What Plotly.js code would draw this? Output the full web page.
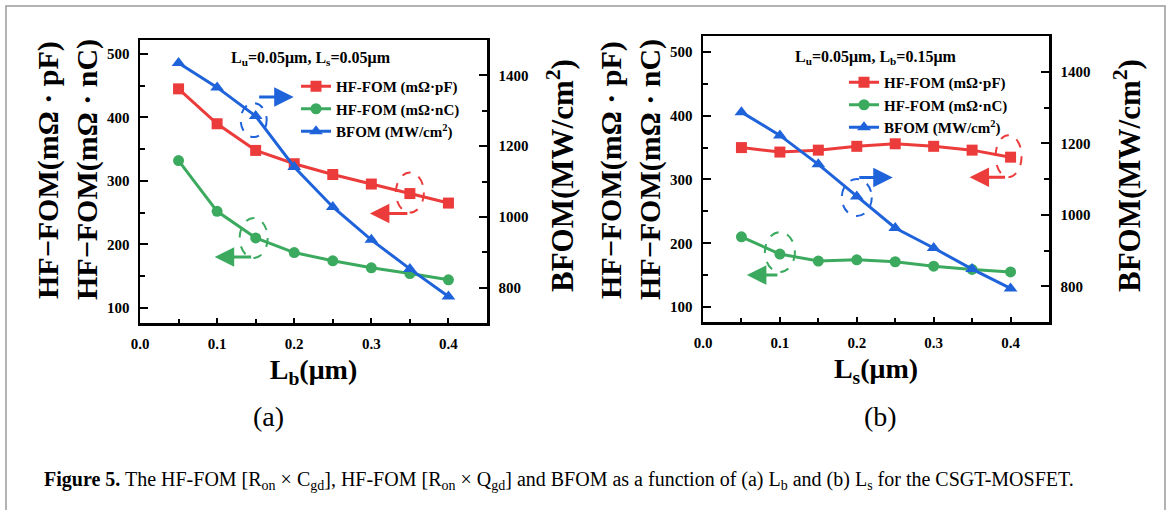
<!DOCTYPE html>
<html>
<head>
<meta charset="utf-8">
<script src="https://cdn.plot.ly/plotly-3.0.1.min.js"></script>
<style>
html,body{margin:0;padding:0;background:#fff;}
#chart{width:1171px;height:510px;}
</style>
</head>
<body>
<div id="chart"></div>
<script>
// ---- data ----
const lengthsUm = [0.05, 0.10, 0.15, 0.20, 0.25, 0.30, 0.35, 0.40];
// panel (a): vs Lb
const hfPF_a = [445, 390, 348, 327, 310, 295, 280, 265];
const hfNC_a = [332, 252, 210, 187, 174, 163, 154, 144];
const bfom_a = [1435, 1366, 1285, 1141, 1028, 935, 853, 775];
// panel (b): vs Ls
const hfPF_b = [350, 343, 346, 352, 356, 352, 346, 335];
const hfNC_b = [210, 183, 172, 174, 171, 164, 159, 155];
const bfom_b = [1287, 1222, 1141, 1051, 963, 907, 848, 794];
const seriesNames = ['HF-FOM (mΩ·pF)', 'HF-FOM (mΩ·nC)', 'BFOM (MW/cm<sup>2</sup>)'];
const xTickVals = [0.0, 0.1, 0.2, 0.3, 0.4];
const yTickVals = [100, 200, 300, 400, 500];
const y2TickVals = [800, 1000, 1200, 1400];

const RED = '#EB3B3B', GREEN = '#3BAA5E', BLUE = '#1F63DB';
const FONT = 'Liberation Serif, Times New Roman, serif';
const W = 1171, H = 510;
const px = v => v / W, py = v => 1 - v / H;

function mk(x, y, xa, ya, name, color, sym, legend, size) {
  return {x: x, y: y, xaxis: xa, yaxis: ya, name: name, type: 'scatter', mode: 'lines+markers',
    line: {color: color, width: 3}, marker: {color: color, symbol: sym, size: size},
    legend: legend};
}
const data = [
  mk(lengthsUm, hfPF_a, 'x', 'y', seriesNames[0], RED, 'square', 'legend', 11),
  mk(lengthsUm, hfNC_a, 'x', 'y', seriesNames[1], GREEN, 'circle', 'legend', 11),
  mk(lengthsUm, bfom_a, 'x', 'y2', seriesNames[2], BLUE, 'triangle-up', 'legend', 12),
  mk(lengthsUm, hfPF_b, 'x2', 'y3', seriesNames[0], RED, 'square', 'legend2', 11),
  mk(lengthsUm, hfNC_b, 'x2', 'y3', seriesNames[1], GREEN, 'circle', 'legend2', 11),
  mk(lengthsUm, bfom_b, 'x2', 'y4', seriesNames[2], BLUE, 'triangle-up', 'legend2', 12)
];

const tickFont = {family: FONT, size: 15, color: '#000', weight: 'bold'};
function xAxis(domain, anchor, title) {
  return {domain: domain, anchor: anchor, range: [0, 0.45], tickvals: xTickVals,
    ticktext: xTickVals.map(v => v.toFixed(1)),
    showline: true, linewidth: 2.5, linecolor: '#000', mirror: true,
    ticks: 'inside', ticklen: 5, tickwidth: 2, tickcolor: '#000',
    minor: {ticks: 'inside', dtick: 0.05, tick0: 0, ticklen: 4, tickwidth: 2, tickcolor: '#000'},
    showgrid: false, zeroline: false, tickfont: tickFont, ticklabelstandoff: 5,
    title: {text: title, font: {family: FONT, size: 28, color: '#000', weight: 'bold'}, standoff: 9}};
}
function yAxis(domain, anchor, range) {
  return {domain: domain, anchor: anchor, range: range, tickvals: yTickVals,
    showline: true, linewidth: 2.5, linecolor: '#000',
    ticks: 'inside', ticklen: 8, tickwidth: 2, tickcolor: '#000',
    minor: {ticks: 'inside', dtick: 50, tick0: 0, ticklen: 5, tickwidth: 2, tickcolor: '#000'},
    showgrid: false, zeroline: false, tickfont: tickFont, ticklabelstandoff: 5};
}
function y2Axis(overlay, anchor) {
  return {overlaying: overlay, anchor: anchor, side: 'right', range: [700, 1500], tickvals: y2TickVals,
    showline: true, linewidth: 2.5, linecolor: '#000',
    ticks: 'inside', ticklen: 8, tickwidth: 2, tickcolor: '#000',
    minor: {ticks: 'inside', dtick: 100, tick0: 0, ticklen: 5, tickwidth: 2, tickcolor: '#000'},
    showgrid: false, zeroline: false, tickfont: tickFont, ticklabelstandoff: 6};
}

const legFont = {family: FONT, size: 15, color: '#000', weight: 'bold'};
const layout = {
  width: W, height: H, margin: {l: 0, r: 0, t: 0, b: 0},
  paper_bgcolor: '#fff', plot_bgcolor: '#fff', showlegend: true,
  xaxis: xAxis([px(140), px(487)], 'y', 'L<sub>b</sub>(μm)'),
  yaxis: yAxis([py(323), py(40)], 'x', [76, 522]),
  yaxis2: y2Axis('y', 'x'),
  xaxis2: xAxis([px(703), px(1049)], 'y3', 'L<sub>s</sub>(μm)'),
  yaxis3: yAxis([py(322), py(36)], 'x2', [76.5, 525]),
  yaxis4: y2Axis('y3', 'x2'),
  legend: {x: px(296), y: py(70), xanchor: 'left', yanchor: 'top', bgcolor: 'rgba(0,0,0,0)',
    font: legFont, itemwidth: 30, tracegroupgap: 0},
  legend2: {x: px(844), y: py(66), xanchor: 'left', yanchor: 'top', bgcolor: 'rgba(0,0,0,0)',
    font: legFont, itemwidth: 30, tracegroupgap: 0},
  shapes: [],
  annotations: []
};

// ellipse markers (dashed) anchored at data points, sized in pixels
function ell(xref, yref, xv, yv, color, w, h, dx, dy) {
  layout.shapes.push({type: 'circle', xref: xref, yref: yref, xsizemode: 'pixel', ysizemode: 'pixel',
    xanchor: xv, yanchor: yv, x0: dx - w / 2, x1: dx + w / 2, y0: dy - h / 2, y1: dy + h / 2,
    line: {color: color, width: 2, dash: 'dash'}});
}
function arr(xref, yref, xv, yv, color, xs, ys, ax) {
  layout.annotations.push({xref: xref, yref: yref, x: xv, y: yv, xshift: xs, yshift: ys,
    text: '', showarrow: true, arrowhead: 2, arrowsize: 1.3, arrowwidth: 3, arrowcolor: color,
    ax: ax, ay: 0});
}
ell('x', 'y2', lengthsUm[2], bfom_a[2], BLUE, 26, 34, -2, -4);
arr('x', 'y2', lengthsUm[2], bfom_a[2], BLUE, 38, 19, -36);
ell('x', 'y', lengthsUm[6], hfPF_a[6], RED, 28, 40, 0, 1);
arr('x', 'y', lengthsUm[6], hfPF_a[6], RED, -40, -20, 39);
ell('x', 'y', lengthsUm[2], hfNC_a[2], GREEN, 28, 40, -2, 0);
arr('x', 'y', lengthsUm[2], hfNC_a[2], GREEN, -41, -19, 38);

ell('x2', 'y3', lengthsUm[7], hfPF_b[7], RED, 26, 42, -2, 1);
arr('x2', 'y3', lengthsUm[7], hfPF_b[7], RED, -41, -20, 37);
ell('x2', 'y4', lengthsUm[3], bfom_b[3], BLUE, 30, 37, 0, -1);
arr('x2', 'y4', lengthsUm[3], bfom_b[3], BLUE, 36, 19, -35);
ell('x2', 'y3', lengthsUm[1], hfNC_b[1], GREEN, 30, 40, 0, 2);
arr('x2', 'y3', lengthsUm[1], hfNC_b[1], GREEN, -33, -21, 32);

function txt(x, y, text, size, bold, angle, anchor) {
  layout.annotations.push({xref: 'paper', yref: 'paper', x: px(x), y: py(y), text: text,
    showarrow: false, textangle: angle || 0, xanchor: anchor || 'center', yanchor: 'middle',
    font: {family: FONT, size: size, color: '#000', weight: bold ? 'bold' : 'normal'}});
}
// panel labels
txt(311, 58, 'L<sub>u</sub>=0.05μm, L<sub>s</sub>=0.05μm', 16, true);
txt(876, 57, 'L<sub>u</sub>=0.05μm, L<sub>b</sub>=0.15μm', 16, true);
// y titles
txt(48, 170, 'HF−FOM(mΩ · pF)', 30, true, -90);
txt(87, 170, 'HF−FOM(mΩ · nC)', 30, true, -90);
txt(560, 176, 'BFOM(MW/cm<sup>2</sup>)', 31, true, -90);
txt(611, 170, 'HF−FOM(mΩ · pF)', 30, true, -90);
txt(650, 170, 'HF−FOM(mΩ · nC)', 30, true, -90);
txt(1127, 176, 'BFOM(MW/cm<sup>2</sup>)', 31, true, -90);
// sub-figure labels
txt(268, 416, '(a)', 28, false);
txt(880, 416, '(b)', 28, false);
// caption
txt(42, 480, '<b>Figure 5.</b> The HF-FOM [R<sub>on</sub> × C<sub>gd</sub>], HF-FOM [R<sub>on</sub> × Q<sub>gd</sub>] and BFOM as a function of (a) L<sub>b</sub> and (b) L<sub>s</sub> for the CSGT-MOSFET.', 20, false, 0, 'left');

// outer frame
layout.shapes.push({type: 'rect', xref: 'paper', yref: 'paper', x0: px(6), x1: px(1165), y0: -0.05, y1: py(6),
  line: {color: '#9a9a9a', width: 1.5}, fillcolor: 'rgba(0,0,0,0)', layer: 'below'});

Plotly.newPlot('chart', data, layout, {staticPlot: true, displayModeBar: false});
</script>
</body>
</html>
